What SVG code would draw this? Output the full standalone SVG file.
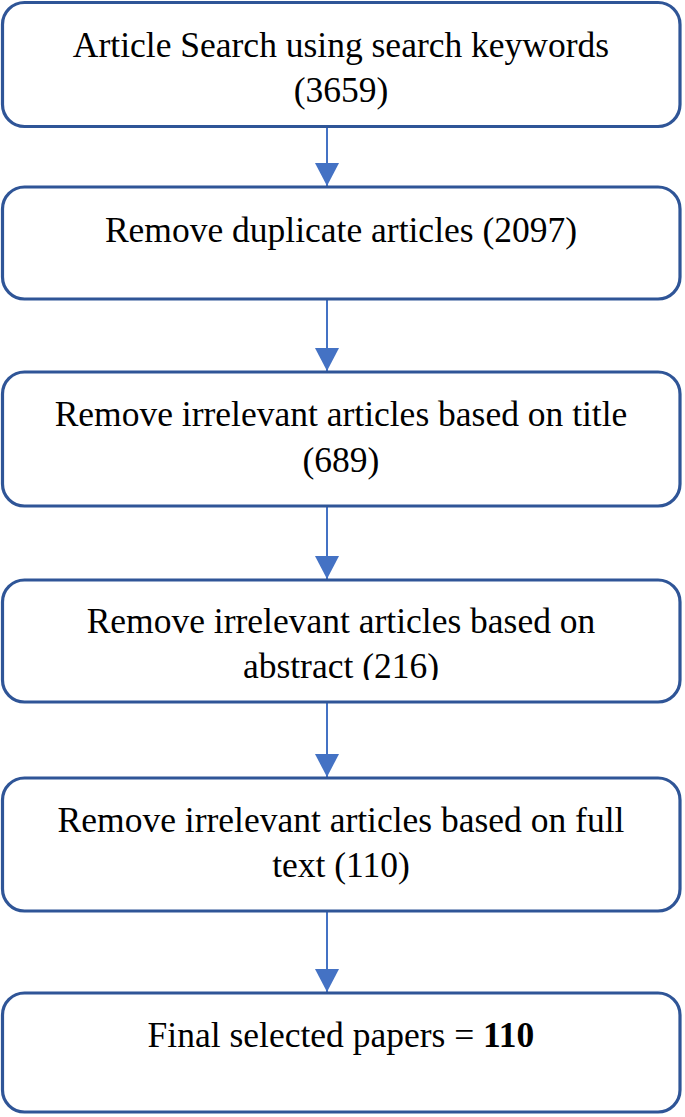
<svg xmlns="http://www.w3.org/2000/svg" width="685" height="1117" viewBox="0 0 685 1117">
<style>
.box{fill:#ffffff;stroke:#2F5597;stroke-width:3.2}
.t{font-family:"Liberation Serif","Times New Roman",serif;font-size:35.5px;fill:#000;text-anchor:middle}
.c{stroke:#4472C4;stroke-width:2;fill:none}
</style>
<defs>
<marker id="ah" markerUnits="userSpaceOnUse" markerWidth="24" markerHeight="24" refX="23" refY="12" orient="auto" viewBox="0 0 24 24">
<path d="M0,0 L23,12 L0,24 Z" fill="#4472C4"/>
</marker>
<clipPath id="clip4"><rect x="0" y="580" width="685" height="100"/></clipPath>
</defs>
<rect width="685" height="1117" fill="#ffffff"/>
<g id="connectors">
<path class="c" d="M327,128 V186" marker-end="url(#ah)"/>
<path class="c" d="M327,300 V371" marker-end="url(#ah)"/>
<path class="c" d="M327,507 V579" marker-end="url(#ah)"/>
<path class="c" d="M327,703 V777" marker-end="url(#ah)"/>
<path class="c" d="M327,912 V992" marker-end="url(#ah)"/>
</g>
<g id="n1">
<rect class="box" x="2.5" y="2.5" width="677.5" height="124" rx="22"/>
<text class="t" x="341" y="57">Article Search using search keywords</text>
<text class="t" x="341" y="102">(3659)</text>
</g>
<g id="n2">
<rect class="box" x="2.5" y="187" width="677.5" height="112" rx="22"/>
<text class="t" x="341" y="242">Remove duplicate articles (2097)</text>
</g>
<g id="n3">
<rect class="box" x="2.5" y="372" width="677.5" height="134" rx="22"/>
<text class="t" x="341" y="426">Remove irrelevant articles based on title</text>
<text class="t" x="341" y="472">(689)</text>
</g>
<g id="n4">
<rect class="box" x="2.5" y="580" width="677.5" height="122" rx="22"/>
<text class="t" x="341" y="633">Remove irrelevant articles based on</text>
<text class="t" x="341" y="678" clip-path="url(#clip4)">abstract (216)</text>
</g>
<g id="n5">
<rect class="box" x="2.5" y="778" width="677.5" height="133" rx="22"/>
<text class="t" x="341" y="832">Remove irrelevant articles based on full</text>
<text class="t" x="341" y="877">text (110)</text>
</g>
<g id="n6">
<rect class="box" x="2.5" y="993" width="677.5" height="119" rx="22"/>
<text class="t" x="341" y="1047">Final selected papers = <tspan font-weight="bold">110</tspan></text>
</g>
</svg>
